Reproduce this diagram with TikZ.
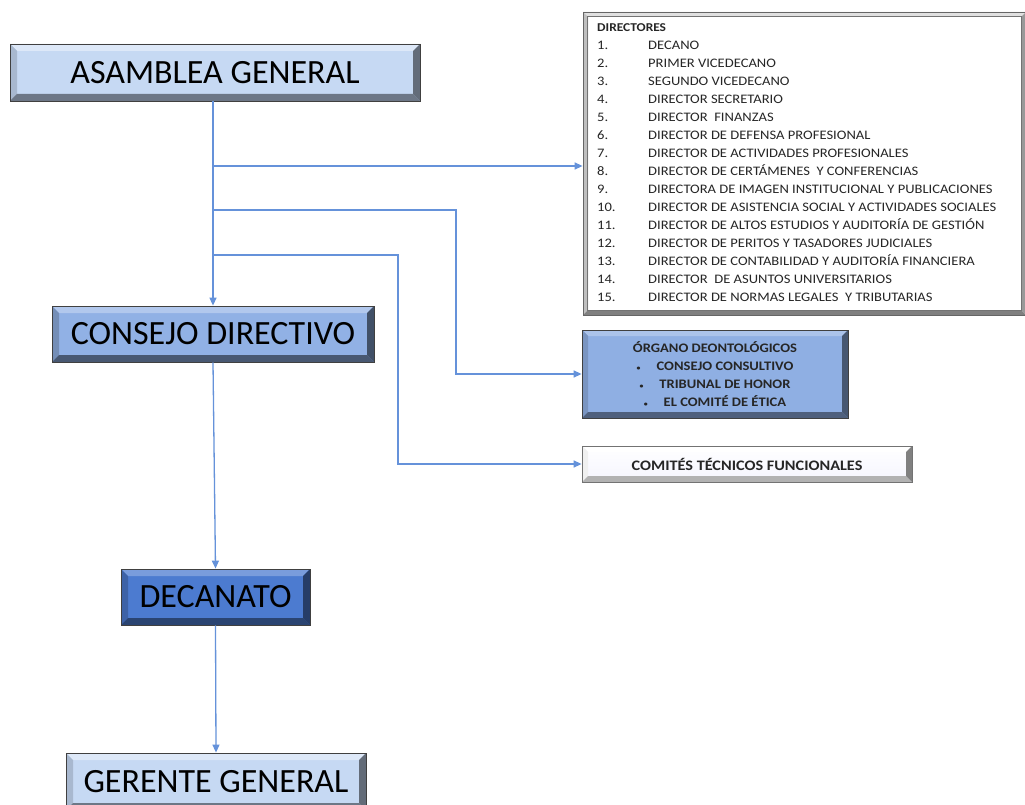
\documentclass[tikz,border=0pt]{standalone}
\usepackage{fontspec}
\setmainfont{Carlito}
\newfontfamily\widefont[FakeStretch=1.12]{Carlito}
\usetikzlibrary{arrows.meta,calc}
\definecolor{lineblue}{HTML}{6592DA}
\definecolor{agfill}{HTML}{C6D9F3}
\definecolor{cdfill}{HTML}{91B1E5}
\definecolor{decfill}{HTML}{4C7BD0}
\definecolor{orgfill}{HTML}{8FAFE3}
\tikzset{
  bevel/.style n args={5}{path picture={
    \fill[#1] (path picture bounding box.north west) -- (path picture bounding box.north east)
      -- ([shift={(-#5,-#5)}]path picture bounding box.north east) -- ([shift={(#5,-#5)}]path picture bounding box.north west) -- cycle;
    \fill[#2] (path picture bounding box.north west) -- (path picture bounding box.south west)
      -- ([shift={(#5,#5)}]path picture bounding box.south west) -- ([shift={(#5,-#5)}]path picture bounding box.north west) -- cycle;
    \fill[#3] (path picture bounding box.south west) -- (path picture bounding box.south east)
      -- ([shift={(-#5,#5)}]path picture bounding box.south east) -- ([shift={(#5,#5)}]path picture bounding box.south west) -- cycle;
    \fill[#4] (path picture bounding box.north east) -- (path picture bounding box.south east)
      -- ([shift={(-#5,#5)}]path picture bounding box.south east) -- ([shift={(-#5,-#5)}]path picture bounding box.north east) -- cycle;
  }},
  box/.style={draw=black!75, line width=0.8pt, inner sep=0pt, align=center},
  bigtxt/.style={font=\fontsize{34}{40}\selectfont},
  conn/.style={draw=lineblue, line width=1.3pt, -{Triangle[length=8pt,width=7pt]}},
  dirtxt/.style={font=\widefont\fontsize{13}{15}\selectfont, text=black!85, inner sep=0pt, anchor=base west},
}
\newcommand\smbul{{\fontsize{7}{7}\selectfont\textbullet}}
\begin{document}
\begin{tikzpicture}[x=1pt,y=-1pt]
\useasboundingbox (0,0) rectangle (1025,805);
\fill[white] (0,0) rectangle (1025,805);

% main chain
\node[box, bigtxt, fill=agfill, minimum width=410pt, minimum height=57pt,
  bevel={agfill!60!white}{agfill!85!black}{agfill!55!black}{agfill!50!black}{7pt}] (ag) at (215,72.5) {ASAMBLEA GENERAL};
\node[box, bigtxt, fill=cdfill, minimum width=322pt, minimum height=56pt,
  bevel={cdfill!70!white}{cdfill!80!black}{cdfill!50!black}{cdfill!45!black}{7pt}] (cd) at (213,334) {CONSEJO DIRECTIVO};
\node[box, bigtxt, fill=decfill, minimum width=189pt, minimum height=56pt,
  bevel={decfill!75!white}{decfill!80!black}{decfill!55!black}{decfill!50!black}{7pt}] (dec) at (215.5,597) {DECANATO};
\node[box, bigtxt, fill=agfill, minimum width=300pt, minimum height=57pt,
  bevel={agfill!60!white}{agfill!85!black}{agfill!55!black}{agfill!50!black}{7pt}] (gg) at (216,781.5) {GERENTE GENERAL};

% directors box
\node[draw=black!60, line width=0.8pt, fill=white, minimum width=443pt, minimum height=303pt, inner sep=0pt,
  bevel={black!12}{black!25}{black!50}{black!40}{5pt}] (dir) at (804.5,163.5) {};
\draw[black!55, line width=0.6pt] ([shift={(5pt,-5pt)}]dir.north west) rectangle ([shift={(-5pt,5pt)}]dir.south east);
\node[dirtxt, font=\widefont\bfseries\fontsize{12}{12}\selectfont] (dirh) at (597,32) {DIRECTORES};
\foreach \t [count=\i] in {DECANO, PRIMER VICEDECANO, SEGUNDO VICEDECANO, DIRECTOR SECRETARIO,
  DIRECTOR\ \ FINANZAS, DIRECTOR DE DEFENSA PROFESIONAL, DIRECTOR DE ACTIVIDADES PROFESIONALES,
  DIRECTOR DE CERTÁMENES\ \ Y CONFERENCIAS, DIRECTORA DE IMAGEN INSTITUCIONAL Y PUBLICACIONES,
  DIRECTOR DE ASISTENCIA SOCIAL Y ACTIVIDADES SOCIALES, DIRECTOR DE ALTOS ESTUDIOS Y AUDITORÍA DE GESTIÓN,
  DIRECTOR DE PERITOS Y TASADORES JUDICIALES, DIRECTOR DE CONTABILIDAD Y AUDITORÍA FINANCIERA,
  DIRECTOR\ \ DE ASUNTOS UNIVERSITARIOS, DIRECTOR DE NORMAS LEGALES\ \ Y TRIBUTARIAS} {
  \node[dirtxt] (dn\i) at (597,{49.5+18*(\i-1)}) {\i.};
  \node[dirtxt] (dt\i) at (648,{49.5+18*(\i-1)}) {\t};
}

% organo box
\node[box, fill=orgfill, minimum width=266pt, minimum height=88pt,
  font=\widefont\bfseries\fontsize{13}{18}\selectfont, text=black!85,
  bevel={orgfill!75!white}{orgfill!85!black}{orgfill!55!black}{orgfill!50!black}{6pt}] (org) at (715,374)
  {ÓRGANO DEONTOLÓGICOS\\ \smbul\hspace{16pt}CONSEJO CONSULTIVO\\ \smbul\hspace{16pt}TRIBUNAL DE HONOR\\ \smbul\hspace{16pt}EL COMITÉ DE ÉTICA};

% comites box
\node[box, draw=black!55, top color=white, bottom color=black!8!blue!4!white, minimum width=330pt, minimum height=36pt,
  font=\widefont\bfseries\fontsize{14.5}{16}\selectfont, text=black!85,
  bevel={white}{black!6}{black!30}{black!50}{6pt}] (ctf) at (747,464) {COMITÉS TÉCNICOS FUNCIONALES};

% connectors
\coordinate (b1) at (214,166);
\coordinate (b2) at (214,210);
\coordinate (b3) at (214,255);
\coordinate (k2) at (456,210);
\coordinate (k3) at (398,255);
\draw[conn] (cd.north |- ag.south) -- (cd.north);
\draw[conn] (b1) -- (b1 -| dir.west);
\draw[conn] (b2) -- (k2) |- (org.west);
\draw[conn] (b3) -- (k3) |- (ctf.west);
\draw[conn] (cd.south) -- (dec.north);
\draw[conn] (dec.south) -- (gg.north);
\end{tikzpicture}
\end{document}
